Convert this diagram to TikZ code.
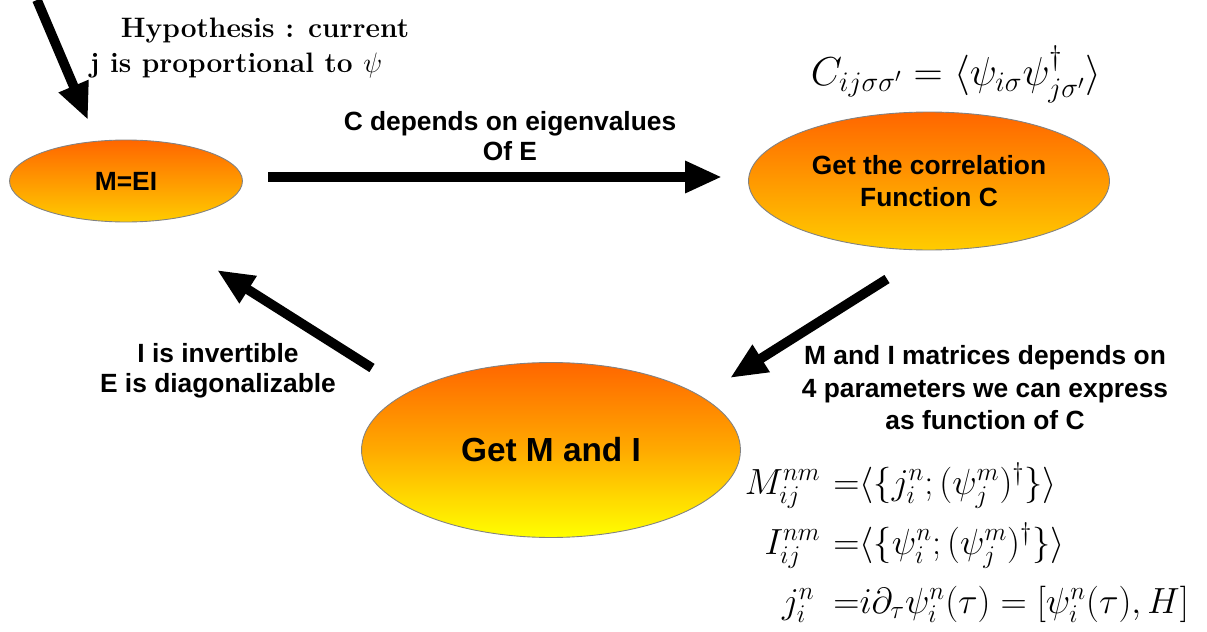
\RequirePackage{fix-cm}
\documentclass[tikz,border=0pt]{standalone}
\usepackage{amsmath}
\usepackage{fontspec}
\setsansfont{Liberation Sans}
\usetikzlibrary{shapes.geometric,arrows.meta}
\definecolor{otop}{RGB}{255,102,0}
\definecolor{gbot}{RGB}{255,204,0}
\definecolor{ybot}{RGB}{255,255,0}
\definecolor{rim}{RGB}{130,130,130}
\tikzset{
  ellbox/.style={ellipse, draw=rim, line width=0.5pt, inner sep=0pt, align=center,
    font=\sffamily\bfseries\fontsize{15}{18}\selectfont, top color=otop, bottom color=gbot},
  bigell/.style={ellbox, bottom color=ybot, middle color={rgb,255:red,255;green,170;blue,0},
    font=\sffamily\bfseries\fontsize{19}{22}\selectfont},
  lbl/.style={align=center, inner sep=0pt, font=\sffamily\bfseries\fontsize{15}{17.5}\selectfont},
  serif/.style={inner sep=0pt, font=\rmfamily\bfseries\fontsize{16}{20}\selectfont},
  eq/.style={inner sep=0pt, font=\fontsize{20.7}{24}\selectfont},
  bigeq/.style={inner sep=0pt, font=\fontsize{23}{27}\selectfont},
  fatarrow/.style={line width=5.5pt, -{Triangle[length=21pt,width=17pt]}}
}
\begin{document}
\begin{tikzpicture}[x=0.02cm,y=-0.02cm]
\useasboundingbox (0,0) rectangle (1207,632);
% ellipses
\node[ellbox, minimum width=4.66cm, minimum height=1.64cm] (mei) at (126,181) {M=EI};
\node[ellbox, minimum width=7.22cm, minimum height=2.76cm] (corr) at (929,181) {Get the correlation\\Function C};
\node[bigell, minimum width=7.58cm, minimum height=3.5cm] (getmi) at (551,450) {Get M and I};
% arrow end points
\coordinate (h0) at (37,0);
\coordinate (h1) at (88,120);
\coordinate (a0) at (268,177);
\coordinate (a1) at (722,177);
\coordinate (b0) at (887,279);
\coordinate (b1) at (730,378);
\coordinate (c0) at (372,368);
\coordinate (c1) at (217,270);
\draw[fatarrow] (h0) -- (h1);
\draw[fatarrow] (a0) -- (a1);
\draw[fatarrow] (b0) -- (b1);
\draw[fatarrow] (c0) -- (c1);
% texts
\node[serif, anchor=base] (hyp1) at (265,37) {Hypothesis : current};
\node[serif, anchor=base] (hyp2) at (236,72) {j is proportional to $\psi$};
\node[lbl, anchor=base] (dep1) at (510,130) {C depends on eigenvalues};
\node[lbl, anchor=base] (dep2) at (510,160) {Of E};
\node[bigeq, anchor=base] (ceq) at (956,85) {$C_{ij\sigma\sigma'}=\langle\psi_{i\sigma}\psi^\dagger_{j\sigma'}\rangle$};
\node[lbl, anchor=base] (inv1) at (218,362) {I is invertible};
\node[lbl, anchor=base] (inv2) at (218,392) {E is diagonalizable};
\node[lbl, anchor=base] (mat1) at (985,364) {M and I matrices depends on};
\node[lbl, anchor=base] (mat2) at (985,397) {4 parameters we can express};
\node[lbl, anchor=base] (mat3) at (985,429) {as function of C};
% equations
\node[eq, anchor=base east] (mL) at (821,494) {$M^{nm}_{ij}$};
\node[eq, anchor=base west] (mR) at (833,494) {${=}\langle\{j^n_i;(\psi^m_j)^\dagger\}\rangle$};
\node[eq, anchor=base east] (iL) at (821,554) {$I^{nm}_{ij}$};
\node[eq, anchor=base west] (iR) at (833,554) {${=}\langle\{\psi^n_i;(\psi^m_j)^\dagger\}\rangle$};
\node[eq, anchor=base east] (jL) at (815,613) {$j^n_i$};
\node[eq, anchor=base west] (jR) at (833,613) {${=}i\partial_\tau\psi^n_i(\tau)=[\psi^n_i(\tau),H]$};
\end{tikzpicture}
\end{document}
